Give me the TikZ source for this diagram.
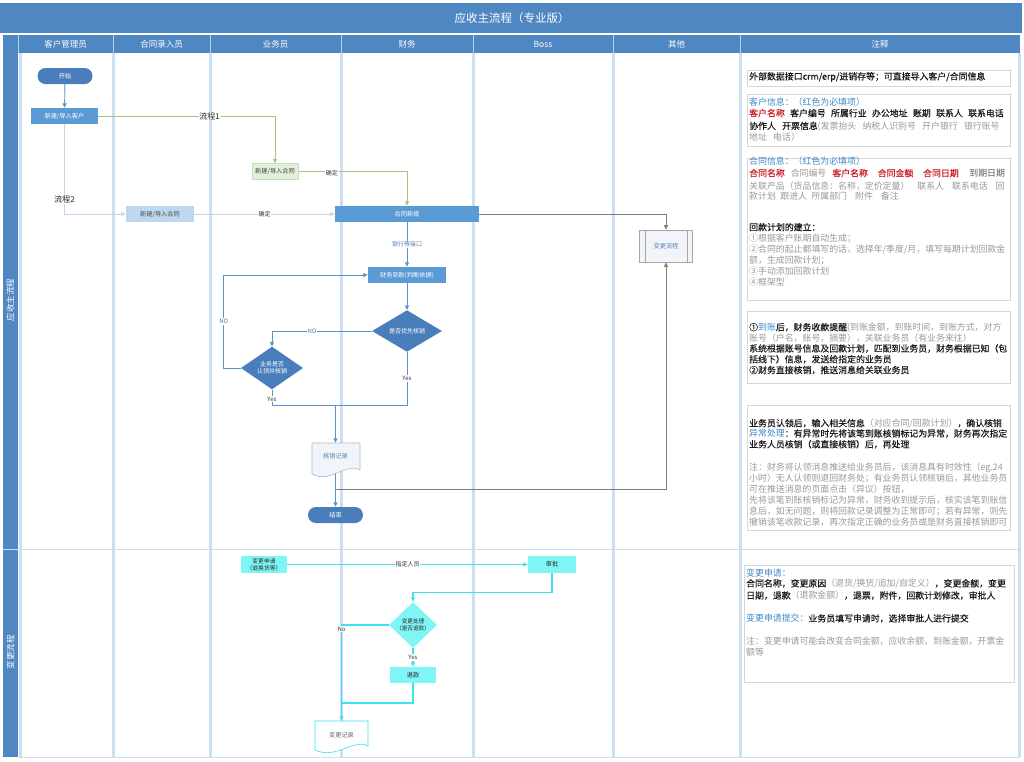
\documentclass[tikz,border=0pt]{standalone}
\usepackage{fontspec}
\setmainfont{Noto Sans CJK SC}
\newfontfamily\annbold[FakeBold=0.35]{Noto Sans CJK SC}
\newfontfamily\annreg{Noto Sans CJK SC}
\usetikzlibrary{arrows.meta,shapes.geometric}
\definecolor{hdr}{HTML}{4E87C2}
\definecolor{lanec}{HTML}{CCDEF2}
\definecolor{bbox}{HTML}{5B9BD5}
\definecolor{dblue}{HTML}{4A7EBB}
\definecolor{lbfill}{HTML}{BDD7EE}
\definecolor{gfill}{HTML}{E2EFDA}
\definecolor{gbord}{HTML}{C9DFB8}
\definecolor{gline}{HTML}{A2C382}
\definecolor{bline}{HTML}{5B92CC}
\definecolor{lline}{HTML}{C2D6EC}
\definecolor{grayl}{HTML}{808080}
\definecolor{cyfill}{HTML}{80F5F5}
\definecolor{cyline}{HTML}{3FE2EA}
\definecolor{anblue}{HTML}{3F88C8}
\definecolor{anred}{HTML}{CC1F26}
\definecolor{angray}{HTML}{999999}
\definecolor{anblack}{HTML}{1A1A1A}
\definecolor{boxln}{HTML}{D6D6D6}
\definecolor{docfill}{HTML}{F1F5FA}
\definecolor{docln}{HTML}{A8BBD3}
\definecolor{lbltx}{HTML}{5D7FAA}
\newcommand{\anB}[1]{{\annreg\textcolor{anblue}{#1}}}
\newcommand{\anR}[1]{\textcolor{anred}{#1}}
\newcommand{\anG}[1]{{\annreg\textcolor{angray}{#1}}}
\newcommand{\gp}{\hspace{0.6em}}
\pgfdeclarelayer{lanes}\pgfdeclarelayer{conn}\pgfsetlayers{lanes,conn,main}
\begin{document}
\begin{tikzpicture}[x=1pt,y=-1pt,
  flow/.style={rectangle, inner sep=0pt, font=\fontsize{6.2}{7.4}\selectfont, align=center},
  bluebox/.style={flow, fill=bbox, text=white},
  pill/.style={flow, rounded corners=8pt, fill=dblue, text=white, minimum width=55pt, minimum height=16pt},
  dia/.style={diamond, inner sep=0pt, fill=dblue, text=white, font=\fontsize{6}{7.2}\selectfont, align=center},
  cybox/.style={flow, fill=cyfill, text=black!85},
  arr/.style={-{Triangle[length=4.5pt,width=4pt]}},
  blueln/.style={line width=0.9pt, draw=bline},
  lbln/.style={line width=0.9pt, draw=lline},
  greenln/.style={line width=0.9pt, draw=gline},
  grayln/.style={line width=0.8pt, draw=grayl},
  cyln/.style={line width=1.1pt, draw=cyline},
  lbl/.style={fill=white, inner sep=0.8pt, font=\fontsize{6}{7}\selectfont, text=black!80},
  bigl/.style={fill=white, inner sep=0.8pt, font=\fontsize{8}{9}\selectfont, text=black!85},
  hdrtxt/.style={font=\fontsize{8.5}{10}\selectfont, text=white},
  ann/.style={anchor=base west, inner sep=0pt, font=\annbold\fontsize{8.9}{11}\selectfont, text=anblack},
  abox/.style={draw=boxln, line width=0.7pt}
]
\useasboundingbox (0,0) rectangle (1024,761);
\begin{pgfonlayer}{lanes}
  \fill[white] (0,0) rectangle (1024,761);
  \fill[hdr] (0,3) rectangle (1022,33);
  \fill[hdr] (3,35) rectangle (1020,53);
  \fill[hdr] (3,35) rectangle (18,757);
  \foreach \x in {20,113,210,341,473,613,740,1019}
    \draw[lanec, line width=3pt] (\x,53) -- (\x,757);
  \foreach \x in {18,113,210,341,473,613,740}
    \draw[white!60!hdr, line width=0.6pt] (\x,35) -- (\x,53);
  \draw[lanec, line width=1pt] (3,549) -- (1020,549);
  \draw[lanec, line width=1pt] (18,757) -- (1020,757);
  % annotation boxes
  \draw[abox] (747,70) rectangle (1010,86);
  \draw[abox] (747,94) rectangle (1010,146);
  \draw[abox] (747,158) rectangle (1010,300);
  \draw[abox] (747,311) rectangle (1010,383);
  \draw[abox] (747,405) rectangle (1010,530);
  \draw[abox] (744,565) rectangle (1014,682);
\end{pgfonlayer}

% title and headers
\node[font=\fontsize{11.5}{13}\selectfont, text=white] (title) at (512,18) {应收主流程（专业版）};
\node[hdrtxt] (h1) at (65.5,44) {客户管理员};
\node[hdrtxt] (h2) at (161.5,44) {合同录入员};
\node[hdrtxt] (h3) at (275.5,44) {业务员};
\node[hdrtxt] (h4) at (407,44) {财务};
\node[hdrtxt] (h5) at (543,44) {Boss};
\node[hdrtxt] (h6) at (676.5,44) {其他};
\node[hdrtxt] (h7) at (880,44) {注释};
\node[hdrtxt, rotate=90] (s1) at (10.5,300) {应收主流程};
\node[hdrtxt, rotate=90] (s2) at (10.5,652) {变更流程};

% main flow nodes
\node[pill] (start) at (65,76) {开始};
\node[bluebox, minimum width=67pt, minimum height=16pt] (kh) at (64.5,116) {新建/导入客户};
\node[flow, fill=gfill, draw=gbord, text=black!75, minimum width=46pt, minimum height=16pt] (ht1) at (275,171.5) {新建/导入合同};
\node[flow, fill=lbfill, text=black!70, minimum width=68pt, minimum height=16pt] (ht2) at (160,214) {新建/导入合同};
\node[bluebox, minimum width=144pt, minimum height=16pt] (xz) at (407,214) {合同新增};
\node[bluebox, minimum width=78pt, minimum height=16pt] (dz) at (407,275) {财务到账(判断依据)};
\node[dia, minimum width=70pt, minimum height=32pt] (d1) at (407,331) {是否优先核销};
\node[dia, minimum width=62pt, minimum height=32pt] (d2) at (272,368) {业务是否\\认领并核销};
\fill[docfill, draw=docln, line width=0.6pt] (312,443) -- (360,443) -- (360,470) .. controls (346,462) and (330,484) .. (312,474) -- cycle;
\node[flow, text=lbltx, minimum width=48pt, minimum height=26pt] (hx) at (335.5,456) {核销记录};
\node[pill] (end) at (335.5,515) {结束};
\node[flow, draw=grayl!70, fill=docfill, text=lbltx, line width=0.6pt, minimum width=53pt, minimum height=32pt] (bg) at (666,246) {变更流程};
\draw[grayl!70, line width=0.6pt] ([xshift=6pt]bg.north west) -- ([xshift=6pt]bg.south west);
\draw[grayl!70, line width=0.6pt] ([xshift=-6pt]bg.north east) -- ([xshift=-6pt]bg.south east);

% change flow nodes
\node[cybox, minimum width=46pt, minimum height=17pt, font=\fontsize{5.8}{7}\selectfont] (sq) at (264,564.5) {变更申请\\（退换货等）};
\node[cybox, minimum width=48pt, minimum height=17pt] (sp) at (552,564.5) {审批};
\node[dia, fill=cyfill, text=black!85, font=\fontsize{5.6}{7}\selectfont, minimum width=48pt, minimum height=34pt] (d3) at (413,625) {变更处理\\（是否退款）};
\node[cybox, minimum width=46pt, minimum height=16pt] (tk) at (413,675) {退款};
\fill[white, draw=cyline, line width=0.6pt] (315,721) -- (368,721) -- (368,746) .. controls (354,738) and (336,760) .. (315,750) -- cycle;
\node[flow, text=black!60, minimum width=53pt, minimum height=28pt] (bj) at (341.5,735) {变更记录};

\coordinate (yj) at (335.5,405);
\coordinate (gj) at (335.5,489);
\coordinate (cj) at (341.5,703);

\begin{pgfonlayer}{conn}
  \draw[blueln,arr] (start) -- (kh);
  \draw[greenln,arr] (kh.east) -- node[bigl,pos=0.63]{流程1} (kh.east -| ht1.north) -- (ht1.north);
  \draw[lbln,arr] (kh.south) -- node[bigl,pos=0.84]{流程2} (kh.south |- ht2.west) -- (ht2.west);
  \draw[lbln,arr] (ht2.east) -- node[lbl]{确定} (xz.west);
  \draw[greenln,arr] (ht1.east) -- node[lbl,pos=0.31,yshift=-2pt]{确定} (ht1.east -| xz.north) -- (xz.north);
  \draw[grayln,arr] (xz.east) -| (bg.north);
  \draw[blueln,arr] (xz) -- node[lbl,text=lbltx]{银行等接口} (dz);
  \draw[blueln,arr] (dz) -- (d1);
  \draw[blueln,arr] (d1.west) -- node[lbl,text=lbltx,pos=0.6]{NO} (d1.west -| d2.north) -- (d2.north);
  \draw[blueln,arr] (d2.west) -- ++(-17,0) |- node[lbl,text=lbltx,pos=0.25]{NO} (dz.west);
  \draw[blueln] (d2.south) -- node[lbl,pos=0.6]{Yes} (d2.south |- yj) -- (d1.south |- yj) -- node[lbl]{Yes} (d1.south);
  \draw[blueln,arr] (yj) -- (hx.north);
  \draw[blueln,arr] (hx.south) -- (end.north);
  \draw[grayln,arr] (gj) -| (bg.south);
  % change flow
  \draw[cyln,arr] (sq.east) -- node[lbl]{指定人员} (sp.west);
  \draw[cyln,arr] (sp.south) -- ++(0,19) -| (d3.north);
  \draw[cyln,arr] (d3.west) -| node[lbl,pos=0.52]{No} (bj.north);
  \draw[cyln,arr] (d3.south) -- node[lbl]{Yes} (tk.north);
  \draw[cyln] (tk.south) |- (cj);
\end{pgfonlayer}

% annotations
\node[ann] (a1) at (749,79.7) {外部数据接口crm/erp/进销存等；可直接导入客户/合同信息};
\node[ann] (a2) at (749,105.9) {\anB{客户信息：（红色为必填项）}};
\node[ann] (a3) at (749,116.5) {\anR{客户名称}\gp 客户编号\gp 所属行业\gp 办公地址\gp 账期\gp 联系人\gp 联系电话};
\node[ann] (a4) at (749,129.2) {协作人\hspace{0.7em}开票信息\anG{(发票抬头\hspace{0.7em}纳税人识别号\hspace{0.7em}开户银行\hspace{0.7em}银行账号}};
\node[ann] (a5) at (749,140.5) {\anG{地址\hspace{0.7em}电话）}};
\node[ann] (b1) at (749,164.2) {\anB{合同信息：（红色为必填项）}};
\node[ann] (b2) at (749,176.5) {\anR{合同名称}\hspace{0.67em}\anG{合同编号}\hspace{0.67em}\anR{客户名称}\hspace{1.1em}\anR{合同金额}\hspace{1.1em}\anR{合同日期}\hspace{1.2em}{\annreg\textcolor{black!65}{到期日期}}};
\node[ann] (b3) at (749,189.2) {\anG{关联产品（货品信息：名称，定价定量）\hspace{0.9em}联系人\hspace{0.9em}联系电话\hspace{0.9em}回}};
\node[ann] (b4) at (749,199.7) {\anG{款计划\hspace{0.5em}跟进人\hspace{0.5em}所属部门\hspace{0.9em}附件\hspace{0.9em}备注}};
\node[ann] (b5) at (749,230.5) {回款计划的建立：};
\node[ann] (b6) at (749,241.5) {\anG{①根据客户账期自动生成；}};
\node[ann] (b7) at (749,252.5) {\anG{②合同的起止都填写的话，选择年/季度/月，填写每期计划回款金}};
\node[ann] (b8) at (749,263.9) {\anG{额，生成回款计划；}};
\node[ann] (b9) at (749,274.9) {\anG{③手动添加回款计划}};
\node[ann] (b10) at (749,285.5) {\anG{④框架型}};
\node[ann] (c1) at (749,330.5) {①\anB{到账}后，财务收款提醒\anG{(到账金额，到账时间，到账方式，对方}};
\node[ann] (c2) at (749,341.5) {\anG{账号（户名，账号，摘要），关联业务员（有业务来往）}};
\node[ann] (c3) at (749,351.8) {系统根据账号信息及回款计划，匹配到业务员，财务根据已知（包};
\node[ann] (c4) at (749,362.6) {括线下）信息，发送给指定的业务员};
\node[ann] (c5) at (749,373.4) {②财务直接核销，推送消息给关联业务员};
\node[ann] (e1) at (749,426.5) {业务员认领后，输入相关信息\anG{（对应合同/回款计划）}，确认核销};
\node[ann] (e2) at (749,436.8) {\anB{异常处理}：有异常时先将该笔到账核销标记为异常，财务再次指定};
\node[ann] (e3) at (749,447.6) {业务人员核销（或直接核销）后，再处理};
\node[ann] (e4) at (749,470) {\anG{注：财务将认领消息推送给业务员后，该消息具有时效性（eg.24}};
\node[ann] (e5) at (749,481) {\anG{小时）无人认领则退回财务处；有业务员认领核销后，其他业务员}};
\node[ann] (e6) at (749,492) {\anG{可在推送消息的页面点击（异议）按钮，}};
\node[ann] (e7) at (749,503) {\anG{先将该笔到账核销标记为异常，财务收到提示后，核实该笔到账信}};
\node[ann] (e8) at (749,514) {\anG{息后，如无问题，则将回款记录调整为正常即可；若有异常，则先}};
\node[ann] (e9) at (749,525) {\anG{撤销该笔收款记录，再次指定正确的业务员或是财务直接核销即可}};
\node[ann] (f1) at (746,576) {\anB{变更申请：}};
\node[ann] (f2) at (746,586.7) {合同名称，变更原因\anG{（退货/换货/追加/自定义）}，变更金额，变更};
\node[ann] (f3) at (746,598.8) {日期，退款\anG{（退款金额）}，退票，附件，回款计划修改，审批人};
\node[ann] (f4) at (746,621.7) {\anB{变更申请提交：}业务员填写申请时，选择审批人进行提交};
\node[ann] (f5) at (746,644) {\anG{注：变更申请可能会改变合同金额，应收余额，到账金额，开票金}};
\node[ann] (f6) at (746,655) {\anG{额等}};
\end{tikzpicture}
\end{document}
